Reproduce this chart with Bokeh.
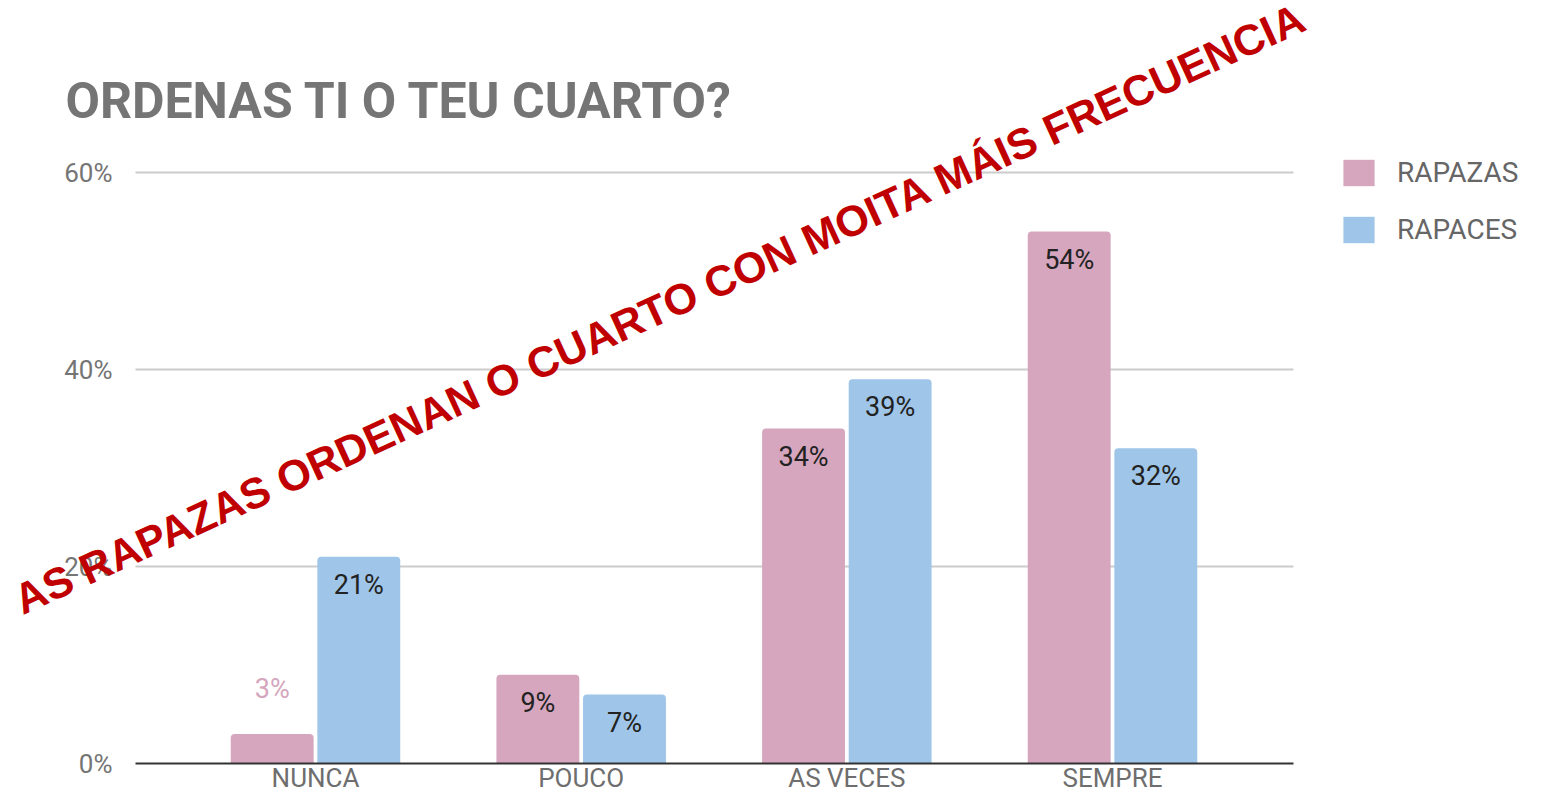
from bokeh.plotting import figure
from bokeh.models import (ColumnDataSource, Range1d, FixedTicker, PrintfTickFormatter,
                          Legend, LegendItem, Label, LinearAxis, Grid)
from bokeh.core.properties import value
from bokeh.embed import file_html
from bokeh.resources import INLINE

# ---- data ----
categories = ["NUNCA", "POUCO", "AS VECES", "SEMPRE"]
rapazas = [3, 9, 34, 54]
rapaces = [21, 7, 39, 32]
series_names = ["RAPAZAS", "RAPACES"]
y_ticks = [0, 20, 40, 60]
title_text = "ORDENAS TI O TEU CUARTO?"
overlay_text = "AS RAPAZAS ORDENAN O CUARTO CON MOITA MÁIS FRECUENCIA"

PINK = "#d5a6bd"
BLUE = "#9fc5e8"
FONT = "Roboto"

W, H = 1527, 794
# canvas pixel geometry of the plotting area (the frame spans the whole canvas)
PX_LEFT, PX_RIGHT = 135, 1293          # extent of grid / x axis
PX_CAT0, PX_STEP = 315, 265.67         # first category centre, category spacing
PX_ZERO, PX_TOP = 763, 172             # y=0 line and y=60 line
PX_PER = (PX_ZERO - PX_TOP) / 60

x_lo = -PX_CAT0 / PX_STEP
x_hi = (W - PX_CAT0) / PX_STEP
y_lo = -(H - PX_ZERO) / PX_PER
y_hi = 60 + PX_TOP / PX_PER
gx0 = (PX_LEFT - PX_CAT0) / PX_STEP
gx1 = (PX_RIGHT - PX_CAT0) / PX_STEP

p = figure(width=W, height=H, output_backend="svg", toolbar_location=None,
           x_range=Range1d(x_lo, x_hi), y_range=Range1d(y_lo, y_hi),
           x_axis_location=None, y_axis_location=None,
           min_border=0, min_border_left=0, min_border_right=0,
           min_border_top=0, min_border_bottom=0)
p.outline_line_color = None
p.background_fill_color = "white"
p.border_fill_color = "white"
p.xgrid.visible = False
p.ygrid.visible = False

xs = list(range(len(categories)))
OFF = 0.163
BW = 0.312
xa = [x - OFF for x in xs]
xb = [x + OFF for x in xs]
src = ColumnDataSource(dict(xa=xa, xb=xb, a=rapazas, b=rapaces))

# horizontal grid limited to the chart area
if "cross_bounds" in Grid.properties():
    g = Grid(dimension=1, ticker=FixedTicker(ticks=y_ticks[1:]), cross_bounds=(gx0, gx1),
             grid_line_color="#cccccc", grid_line_width=2)
    p.add_layout(g)
else:
    p.segment(x0=[gx0] * 3, x1=[gx1] * 3, y0=y_ticks[1:], y1=y_ticks[1:],
              line_color="#cccccc", line_width=2, level="underlay")

ra = p.vbar(x="xa", top="a", width=BW, source=src,
            fill_color=PINK, line_color=None, border_radius=(4, 4, 0, 0))
rb = p.vbar(x="xb", top="b", width=BW, source=src,
            fill_color=BLUE, line_color=None, border_radius=(4, 4, 0, 0))

# data labels: inside the bar when tall enough, above it (in series colour) otherwise
for vals, xpos, col in ((rapazas, xa, PINK), (rapaces, xb, BLUE)):
    ins = dict(x=[], v=[], t=[])
    outs = dict(x=[], v=[], t=[])
    for xx, v in zip(xpos, vals):
        d = ins if v >= 5 else outs
        d["x"].append(xx); d["v"].append(v); d["t"].append(f"{v}%")
    p.text(x="x", y="v", text="t", source=ColumnDataSource(ins),
           text_align="center", text_baseline="middle", y_offset=28,
           text_font=value(FONT), text_font_size="27px", text_color="#222222")
    p.text(x="x", y="v", text="t", source=ColumnDataSource(outs),
           text_align="center", text_baseline="middle", y_offset=-45,
           text_font=value(FONT), text_font_size="27px", text_color=col)

# axes placed at fixed data locations inside the canvas
yaxis = LinearAxis(fixed_location=gx0, ticker=FixedTicker(ticks=y_ticks),
                   formatter=PrintfTickFormatter(format="%d%%"),
                   axis_line_color=None, major_tick_line_color=None, minor_tick_line_color=None,
                   major_label_standoff=17, major_label_text_font=FONT,
                   major_label_text_font_size="26px", major_label_text_color="#757575")
p.add_layout(yaxis, "left")

xaxis = LinearAxis(fixed_location=0, bounds=(gx0, gx1), ticker=FixedTicker(ticks=xs),
                   major_label_overrides={i: c for i, c in enumerate(categories)},
                   axis_line_color="#333333", axis_line_width=2,
                   major_tick_line_color=None, minor_tick_line_color=None,
                   major_label_standoff=-7, major_label_text_font=FONT,
                   major_label_text_font_size="26px", major_label_text_color="#6e6e6e")
p.add_layout(xaxis, "below")

# legend to the right of the chart area (location = bottom-left corner, from canvas bottom)
legend = Legend(items=[LegendItem(label=series_names[0], renderers=[ra]),
                       LegendItem(label=series_names[1], renderers=[rb])],
                location=(1339, H - 246),
                glyph_width=39, glyph_height=33, label_height=33, spacing=24,
                label_standoff=19, padding=0, margin=0,
                border_line_color=None, background_fill_alpha=0,
                label_text_font=FONT, label_text_font_size="28px", label_text_color="#666666")
p.add_layout(legend)

# title
p.add_layout(Label(x=65, y=H - 100, x_units="screen", y_units="screen",
                   text=title_text, text_font=FONT, text_font_style="bold",
                   text_font_size="50px", text_color="#757575", text_baseline="alphabetic"))

# red diagonal overlay
p.add_layout(Label(x=16, y=H - 601, x_units="screen", y_units="screen",
                   angle=0.4276, text=overlay_text, text_font="Liberation Sans",
                   text_font_style="bold", text_font_size="43px", text_color="#c00000",
                   text_baseline="alphabetic", text_align="left"))

open("out.html", "w").write(file_html(p, INLINE))
